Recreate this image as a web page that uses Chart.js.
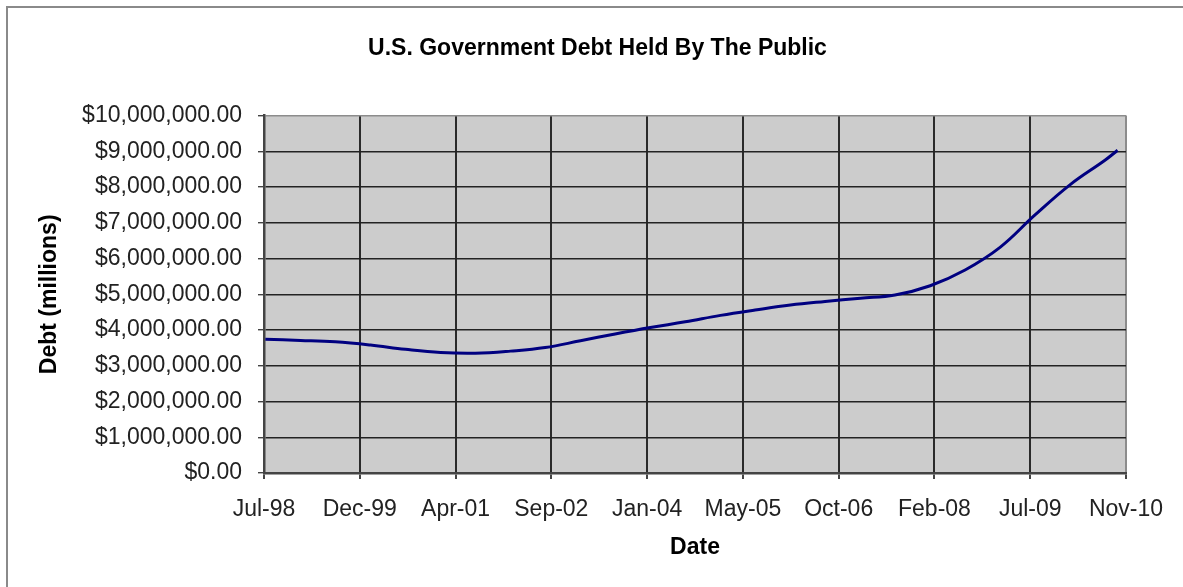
<!DOCTYPE html>
<html>
<head>
<meta charset="utf-8">
<script src="https://cdn.jsdelivr.net/npm/chart.js@4.4.1/dist/chart.umd.min.js"></script>
<style>
    html, body { margin: 0; padding: 0; background: #ffffff; }
    #wrap { position: relative; width: 1183px; height: 587px; overflow: hidden; }
    #frame {
        position: absolute; left: 6px; top: 6px; width: 1300px; height: 700px;
        border-left: 2px solid #8a8a8a; border-top: 2px solid #8a8a8a;
        pointer-events: none;
    }
    canvas { position: absolute; left: 0; top: 0; }
</style>
</head>
<body>
<div id="wrap">
    <canvas id="chart" width="1183" height="587"></canvas>
    <div id="frame"></div>
</div>
<script>
    // axis starts at this date, ticks every 500 days (Excel date axis)
    var axisStart = '1998-07-24';
    var tickLabels = ['Jul-98', 'Dec-99', 'Apr-01', 'Sep-02', 'Jan-04',
        'May-05', 'Oct-06', 'Feb-08', 'Jul-09', 'Nov-10'];

    var dates = ['1998-07-31', '1999-01-31', '1999-07-31', '2000-01-31', '2000-07-31',
        '2001-01-31', '2001-07-31', '2002-01-31', '2002-07-31', '2003-01-31',
        '2003-07-31', '2004-01-31', '2004-07-31', '2005-01-31', '2005-07-31',
        '2006-01-31', '2006-07-31', '2007-01-31', '2007-07-31', '2008-01-31',
        '2008-07-31', '2009-01-31', '2009-07-31', '2010-01-31', '2010-07-31',
        '2010-10-05'];
    // debt held by the public, in millions of dollars
    var debt = [3740000, 3710000, 3670000, 3580000, 3460000,
        3370000, 3350000, 3410000, 3510000, 3700000,
        3890000, 4070000, 4230000, 4410000, 4560000,
        4700000, 4800000, 4890000, 4980000, 5240000,
        5680000, 6320000, 7220000, 8070000, 8750000,
        9030000];

    function dayOffset (s) {
        var p = s.split('-'),
            a = axisStart.split('-');
        return (Date.UTC(+p[0], p[1] - 1, +p[2]) - Date.UTC(+a[0], a[1] - 1, +a[2])) / 86400000;
    }

    var points = dates.map(function (d, i) {
        return { x: dayOffset(d), y: debt[i] };
    });

    var FONT = 'Liberation Sans, Arial, sans-serif';

    var plotBackground = {
        id: 'plotBackground',
        beforeDraw: function (chart) {
            var a = chart.chartArea,
                ctx = chart.ctx;
            ctx.save();
            ctx.fillStyle = '#cccccc';
            ctx.fillRect(a.left, a.top, a.right - a.left, a.bottom - a.top);
            ctx.restore();
        }
    };

    new Chart(document.getElementById('chart'), {
        type: 'line',
        data: {
            datasets: [{
                data: points,
                borderColor: '#000080',
                borderWidth: 3,
                pointRadius: 0,
                tension: 0.4,
                fill: false
            }]
        },
        options: {
            responsive: false,
            animation: false,
            layout: { padding: { left: 12, right: 0, top: 0, bottom: 0 } },
            plugins: {
                legend: { display: false },
                tooltip: { enabled: false },
                title: {
                    display: true,
                    text: 'U.S. Government Debt Held By The Public',
                    color: '#000000',
                    font: { family: FONT, size: 23, weight: 'bold' },
                    padding: { top: 35, bottom: 53 }
                }
            },
            scales: {
                x: {
                    type: 'linear',
                    min: 0,
                    max: 4500,
                    afterFit: function (s) { s.height = 114; },
                    afterBuildTicks: function (s) {
                        s.ticks = tickLabels.map(function (t, i) { return { value: i * 500 }; });
                    },
                    ticks: {
                        padding: 17,
                        maxRotation: 0,
                        autoSkip: false,
                        color: '#222222',
                        font: { family: FONT, size: 23 },
                        callback: function (v, i) { return tickLabels[i]; }
                    },
                    grid: {
                        color: function (c) { return c.index === tickLabels.length - 1 ? '#8c8c8c' : '#2a2a2a'; },
                        lineWidth: 2,
                        tickLength: 6,
                        tickColor: '#444444'
                    },
                    border: { display: true, color: '#444444', width: 2.5 },
                    title: {
                        display: true,
                        text: 'Date',
                        color: '#000000',
                        font: { family: FONT, size: 23, weight: 'bold' },
                        padding: { top: 0, bottom: 26 }
                    }
                },
                y: {
                    min: 0,
                    max: 10000000,
                    afterFit: function (s) { s.width = 252; },
                    ticks: {
                        stepSize: 1000000,
                        padding: 16,
                        color: '#222222',
                        font: { family: FONT, size: 23 },
                        callback: function (v) {
                            return '$' + v.toLocaleString('en-US', { minimumFractionDigits: 2, maximumFractionDigits: 2 });
                        }
                    },
                    grid: {
                        color: function (c) { return c.index === 10 ? '#8c8c8c' : '#222222'; },
                        lineWidth: 1.4,
                        tickLength: 6,
                        tickColor: '#444444'
                    },
                    border: { display: true, color: '#444444', width: 2.5 },
                    title: {
                        display: true,
                        text: 'Debt (millions)',
                        color: '#000000',
                        font: { family: FONT, size: 23, weight: 'bold' },
                        padding: { top: 24, bottom: 0 }
                    }
                },
                // empty right-hand box keeps the plot off the right edge
                yRight: {
                    position: 'right',
                    display: true,
                    afterFit: function (s) { s.width = 57; },
                    ticks: { display: false },
                    grid: { display: false },
                    border: { display: false }
                }
            }
        },
        plugins: [plotBackground]
    });
</script>
</body>
</html>
